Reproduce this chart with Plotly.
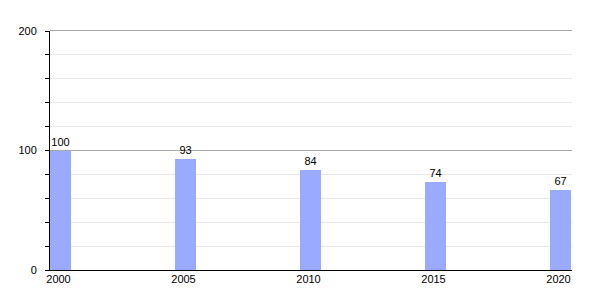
import plotly.graph_objects as go

years = [2000, 2005, 2010, 2015, 2020]
values = [100, 93, 84, 74, 67]
year_labels = ["2000", "2005", "2010", "2015", "2020"]
y_ticks = [0, 100, 200]

PLOT_H = 300 - 31 - 30

fig = go.Figure(go.Bar(
    x=years, y=values, width=0.83,
    marker=dict(color="#99aaff", line=dict(width=0)),
    text=[str(v) for v in values], textposition="outside",
    textfont=dict(family="Liberation Sans, Arial", size=11, color="#000"),
    cliponaxis=False,
))

fig.update_layout(
    width=600, height=300,
    margin=dict(l=50, r=28, t=31, b=30),
    paper_bgcolor="white", plot_bgcolor="white",
    font=dict(family="Liberation Sans, Arial", size=11, color="#000"),
    showlegend=False,
    bargap=0,
)
# top major gridline at the range maximum (half-pixel offset for a crisp line)
fig.add_shape(type="line", xref="paper", yref="paper", x0=0, x1=1,
              y0=1 + 0.5 / PLOT_H, y1=1 + 0.5 / PLOT_H,
              line=dict(color="#aaaaaa", width=1), layer="above")
fig.update_xaxes(
    range=[1999.58, 2020.46],
    tickvals=years, ticktext=year_labels,
    showgrid=False, zeroline=False,
    showline=True, linecolor="#000", linewidth=1,
    ticks="", ticklabelstandoff=-1, ticklabelshift=-2,
)
fig.update_yaxes(
    range=[0, 200], tickvals=y_ticks,
    showgrid=True, gridcolor="#aaaaaa", gridwidth=1,
    zeroline=False,
    showline=True, linecolor="#000", linewidth=1,
    ticks="outside", ticklen=4, tickcolor="#000",
    ticklabelstandoff=6,
    minor=dict(dtick=20, showgrid=True, gridcolor="#e8e8e8", ticks="outside", ticklen=4, tickcolor="#000"),
)

fig.write_html("out.html")
